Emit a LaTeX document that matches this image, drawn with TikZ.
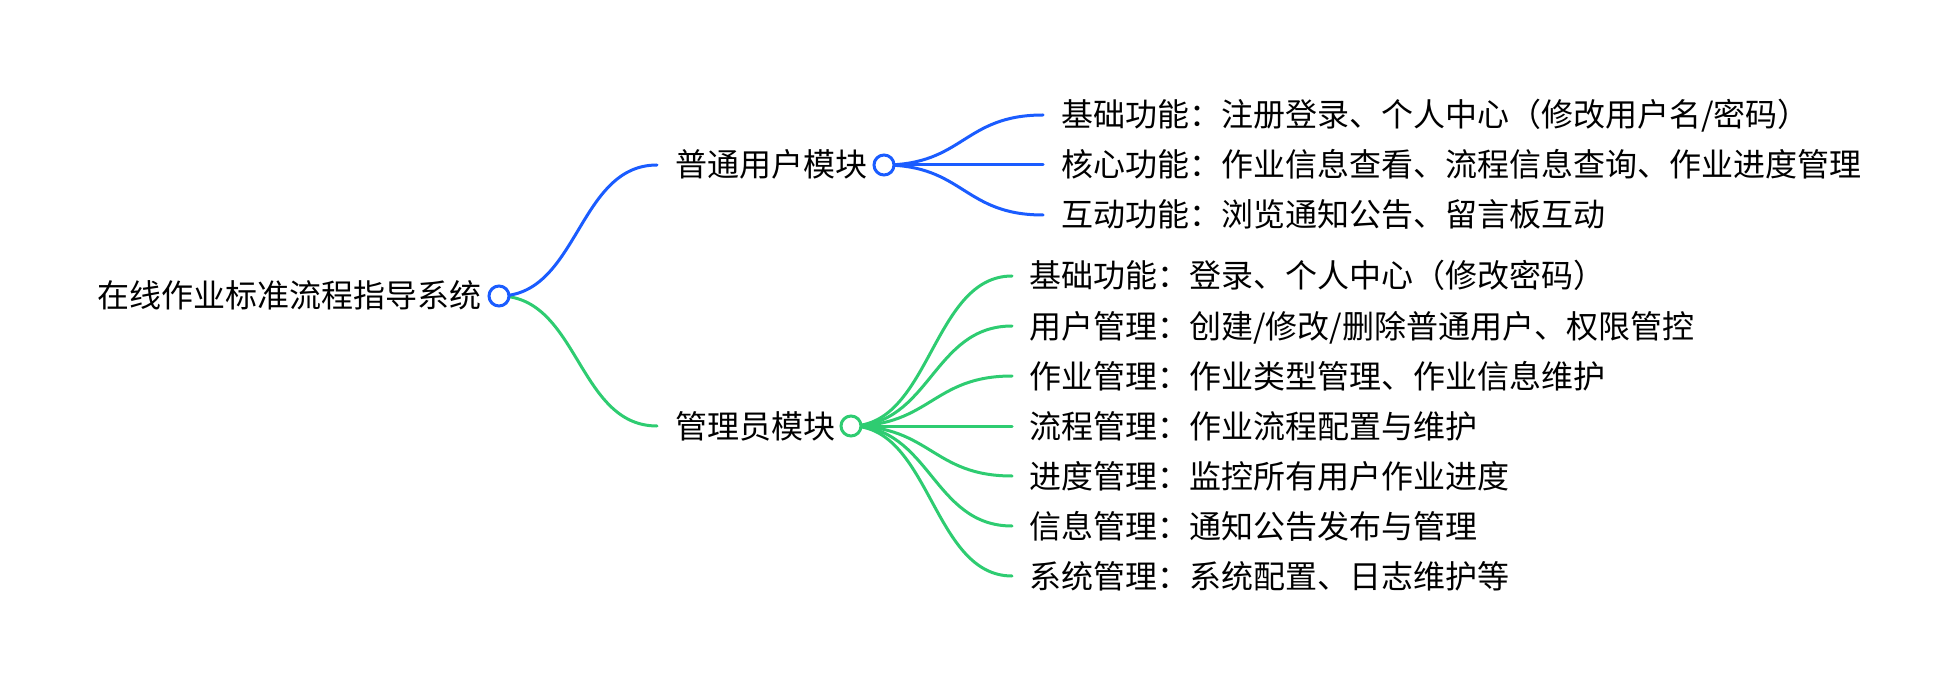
\documentclass[tikz,border=0pt]{standalone}
\usepackage{fontspec}
\setmainfont{Noto Sans CJK SC}
\definecolor{mblue}{HTML}{1A5CFF}
\definecolor{mgreen}{HTML}{2ECC71}
\begin{document}
\begin{tikzpicture}[x=1pt,y=-1pt,
  lbl/.style={font=\fontsize{32}{38}\selectfont, inner sep=0pt, anchor=west, text height=26pt, text depth=2pt, text=black},
  dot/.style={circle, draw=#1, line width=3pt, fill=white, minimum size=20pt, inner sep=0pt},
  link/.style={draw=#1, line width=3pt, line cap=round},
  mm/.style={out=0, in=180, distance=79.5pt}]
\useasboundingbox (0,0) rectangle (1958,692);
% root
\node[lbl] (root) at (97,296) {在线作业标准流程指导系统};
\coordinate (rc0) at (499,296);
% user module
\node[lbl] (user) at (675,165) {普通用户模块};
\coordinate (ue) at (657,165);
\coordinate (uc0) at (884,165);
\coordinate (u1) at (1043,115);
\coordinate (u2) at (1043,165);
\coordinate (u3) at (1043,215);
\node[lbl] (ut1) at (1061,115) {基础功能：注册登录、个人中心（修改用户名/密码）};
\node[lbl] (ut2) at (1061,165) {核心功能：作业信息查看、流程信息查询、作业进度管理};
\node[lbl] (ut3) at (1061,215) {互动功能：浏览通知公告、留言板互动};
% admin module
\node[lbl] (admin) at (675,426) {管理员模块};
\coordinate (ae) at (657,426);
\coordinate (ac0) at (851,426);
\coordinate (a1) at (1012,276);
\coordinate (a2) at (1012,326);
\coordinate (a3) at (1012,376);
\coordinate (a4) at (1012,426);
\coordinate (a5) at (1012,476);
\coordinate (a6) at (1012,526);
\coordinate (a7) at (1012,576);
\node[lbl] (at1) at (1029,276) {基础功能：登录、个人中心（修改密码）};
\node[lbl] (at2) at (1029,326) {用户管理：创建/修改/删除普通用户、权限管控};
\node[lbl] (at3) at (1029,376) {作业管理：作业类型管理、作业信息维护};
\node[lbl] (at4) at (1029,426) {流程管理：作业流程配置与维护};
\node[lbl] (at5) at (1029,476) {进度管理：监控所有用户作业进度};
\node[lbl] (at6) at (1029,526) {信息管理：通知公告发布与管理};
\node[lbl] (at7) at (1029,576) {系统管理：系统配置、日志维护等};
% links
\draw[link=mgreen] (rc0) to[mm] (ae);
\draw[link=mblue] (rc0) to[mm] (ue);
\foreach \t in {u1,u2,u3} \draw[link=mblue] (uc0) to[mm] (\t);
\foreach \t in {a1,a2,a3,a4,a5,a6,a7} \draw[link=mgreen] (ac0) to[mm] (\t);
% circles
\node[dot=mblue] (rc) at (rc0) {};
\node[dot=mblue] (uc) at (uc0) {};
\node[dot=mgreen] (ac) at (ac0) {};
\end{tikzpicture}
\end{document}
